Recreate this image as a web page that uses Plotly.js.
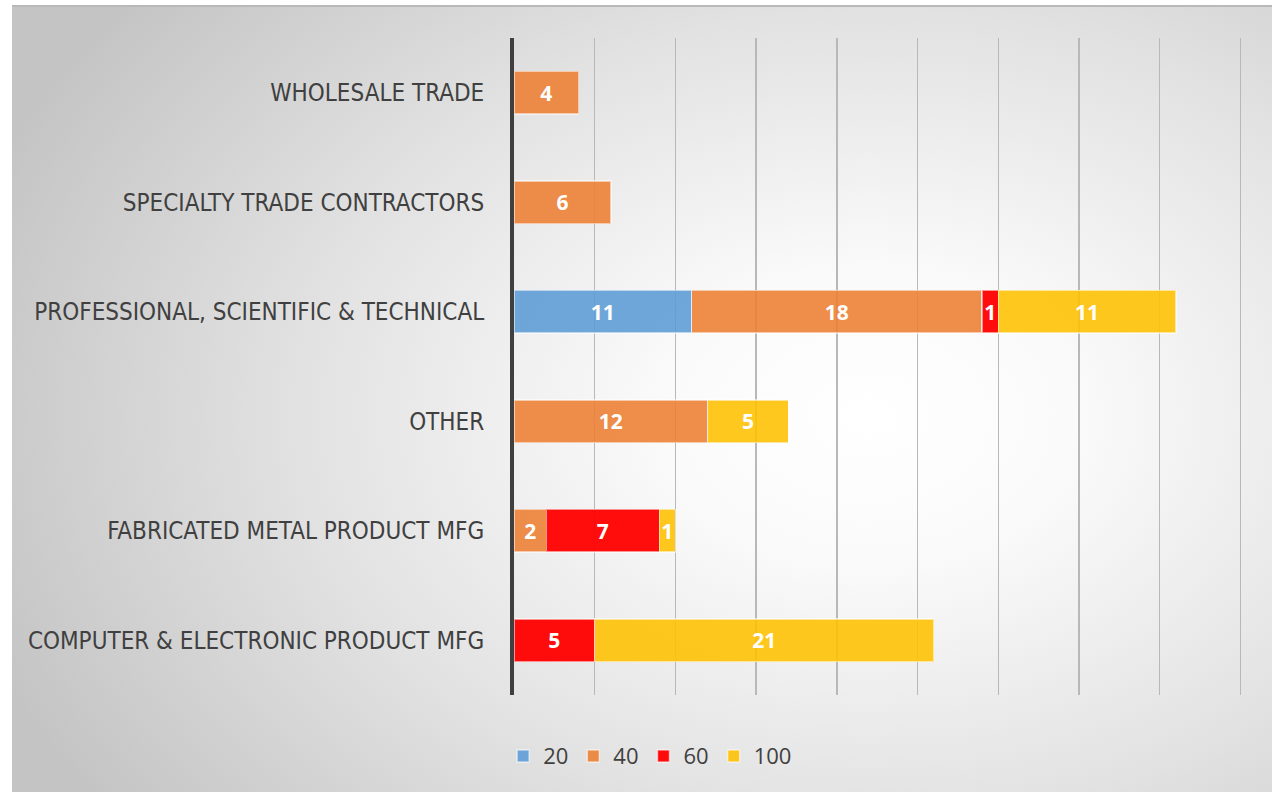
<!DOCTYPE html>
<html>
<head>
<meta charset="utf-8">
<script src="https://cdn.plot.ly/plotly-3.0.1.min.js"></script>
<style>
  html, body { margin: 0; padding: 0; background: #ffffff; width: 1274px; height: 792px; overflow: hidden; }
  #bg { position: absolute; left: 12px; top: 5px; width: 1260px; height: 787px;
        border-top: 2px solid #b9b9b9;
        background: radial-gradient(ellipse 75% 85% at 68% 52%, #ffffff 0%, #fafafa 22%, #e2e2e2 60%, #c4c4c4 100%); }
  #chart { position: absolute; left: 0; top: 0; width: 1274px; height: 792px; }
</style>
</head>
<body>
<div id="bg"></div>
<div id="chart"></div>
<script>
const categories = [
  "COMPUTER & ELECTRONIC PRODUCT MFG",
  "FABRICATED METAL PRODUCT MFG",
  "OTHER",
  "PROFESSIONAL, SCIENTIFIC & TECHNICAL",
  "SPECIALTY TRADE CONTRACTORS",
  "WHOLESALE TRADE"
];
const seriesNames = ["20", "40", "60", "100"];
const values20  = [null, null, null, 11, null, null];
const values40  = [null, 2, 12, 18, 6, 4];
const values60  = [5, 7, null, 1, null, null];
const values100 = [21, 1, 5, 11, null, null];
const seriesValues = [values20, values40, values60, values100];
const seriesColors = ["rgba(91,155,213,0.88)", "rgba(237,125,49,0.88)", "rgba(255,0,0,0.95)", "rgba(255,192,0,0.88)"];

const traces = seriesNames.map((name, i) => ({
  type: "bar",
  orientation: "h",
  name: name,
  y: categories,
  x: seriesValues[i],
  text: seriesValues[i].map(v => v === null ? "" : String(v)),
  textposition: "inside",
  insidetextanchor: "middle",
  textfont: { family: "Open Sans, sans-serif", size: 21, color: "#ffffff", weight: "bold" },
  marker: { color: seriesColors[i], line: { color: "rgba(255,255,255,0.55)", width: 1.5 } },
  hoverinfo: "x+y+name"
}));

const layout = {
  width: 1274,
  height: 792,
  paper_bgcolor: "rgba(0,0,0,0)",
  plot_bgcolor: "rgba(0,0,0,0)",
  margin: { l: 514, r: 32, t: 38, b: 97 },
  barmode: "stack",
  bargap: 0.61,
  showlegend: true,
  uniformtext: { mode: "show", minsize: 21 },
  xaxis: {
    range: [0, 45.1],
    dtick: 5,
    tick0: 0,
    showgrid: true,
    gridcolor: "#b8b8b8",
    gridwidth: 1.5,
    zeroline: false,
    showticklabels: false,
    ticks: "",
    fixedrange: true
  },
  yaxis: {
    type: "category",
    categoryorder: "array",
    categoryarray: categories,
    showline: true,
    linecolor: "#3f3f3f",
    linewidth: 4,
    showgrid: false,
    ticks: "",
    ticklabelstandoff: 21,
    tickfont: { family: "Liberation Sans Narrow, DejaVu Sans Condensed, Arial, sans-serif", size: 24, color: "#404040" },
    fixedrange: true
  },
  legend: {
    orientation: "h",
    x: 0.187,
    xanchor: "center",
    y: -0.093,
    yanchor: "middle",
    font: { family: "Open Sans, sans-serif", size: 22, color: "#404040" },
    bgcolor: "rgba(0,0,0,0)",
    itemwidth: 30,
    traceorder: "normal"
  }
};

Plotly.newPlot("chart", traces, layout, { displayModeBar: false, staticPlot: true });
</script>
</body>
</html>
